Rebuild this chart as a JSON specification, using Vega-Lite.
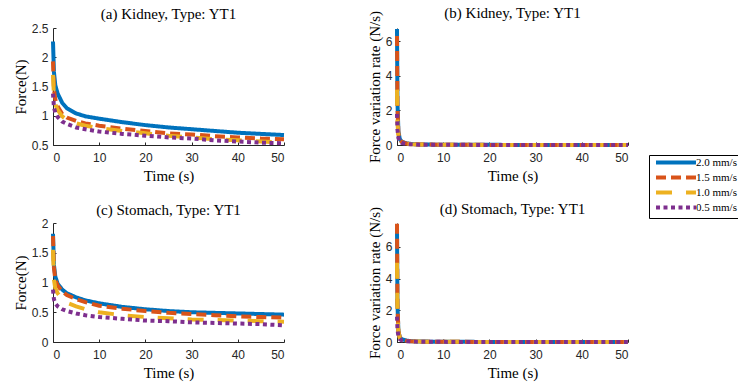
{
  "$schema": "https://vega.github.io/schema/vega-lite/v6.json",
  "background": "white",
  "padding": {"left": 13, "top": 6, "right": 1, "bottom": 2},
  "datasets": {
    "force": [
      {"t":0,"speed":"2.0 mm/s","kidney":2.27,"stomach":1.82},{"t":0.2,"speed":"2.0 mm/s","kidney":1.75,"stomach":1.30},{"t":0.5,"speed":"2.0 mm/s","kidney":1.52,"stomach":1.10},{"t":1,"speed":"2.0 mm/s","kidney":1.38,"stomach":0.98},{"t":2,"speed":"2.0 mm/s","kidney":1.22,"stomach":0.88},{"t":3,"speed":"2.0 mm/s","kidney":1.13,"stomach":0.82},{"t":5,"speed":"2.0 mm/s","kidney":1.04,"stomach":0.75},{"t":7,"speed":"2.0 mm/s","kidney":0.99,"stomach":0.70},{"t":10,"speed":"2.0 mm/s","kidney":0.95,"stomach":0.65},{"t":15,"speed":"2.0 mm/s","kidney":0.89,"stomach":0.59},{"t":20,"speed":"2.0 mm/s","kidney":0.84,"stomach":0.55},{"t":25,"speed":"2.0 mm/s","kidney":0.80,"stomach":0.52},{"t":30,"speed":"2.0 mm/s","kidney":0.77,"stomach":0.50},{"t":35,"speed":"2.0 mm/s","kidney":0.74,"stomach":0.49},{"t":40,"speed":"2.0 mm/s","kidney":0.71,"stomach":0.48},{"t":45,"speed":"2.0 mm/s","kidney":0.69,"stomach":0.47},{"t":50,"speed":"2.0 mm/s","kidney":0.67,"stomach":0.46},
      {"t":0,"speed":"1.5 mm/s","kidney":1.93,"stomach":1.78},{"t":0.2,"speed":"1.5 mm/s","kidney":1.45,"stomach":1.25},{"t":0.5,"speed":"1.5 mm/s","kidney":1.28,"stomach":1.05},{"t":1,"speed":"1.5 mm/s","kidney":1.16,"stomach":0.95},{"t":2,"speed":"1.5 mm/s","kidney":1.03,"stomach":0.85},{"t":3,"speed":"1.5 mm/s","kidney":0.97,"stomach":0.79},{"t":5,"speed":"1.5 mm/s","kidney":0.91,"stomach":0.72},{"t":7,"speed":"1.5 mm/s","kidney":0.87,"stomach":0.67},{"t":10,"speed":"1.5 mm/s","kidney":0.83,"stomach":0.61},{"t":15,"speed":"1.5 mm/s","kidney":0.78,"stomach":0.56},{"t":20,"speed":"1.5 mm/s","kidney":0.74,"stomach":0.52},{"t":25,"speed":"1.5 mm/s","kidney":0.70,"stomach":0.49},{"t":30,"speed":"1.5 mm/s","kidney":0.68,"stomach":0.47},{"t":35,"speed":"1.5 mm/s","kidney":0.65,"stomach":0.45},{"t":40,"speed":"1.5 mm/s","kidney":0.63,"stomach":0.43},{"t":45,"speed":"1.5 mm/s","kidney":0.61,"stomach":0.42},{"t":50,"speed":"1.5 mm/s","kidney":0.60,"stomach":0.41},
      {"t":0,"speed":"1.0 mm/s","kidney":1.70,"stomach":1.55},{"t":0.2,"speed":"1.0 mm/s","kidney":1.35,"stomach":1.05},{"t":0.5,"speed":"1.0 mm/s","kidney":1.20,"stomach":0.90},{"t":1,"speed":"1.0 mm/s","kidney":1.10,"stomach":0.82},{"t":2,"speed":"1.0 mm/s","kidney":0.99,"stomach":0.72},{"t":3,"speed":"1.0 mm/s","kidney":0.93,"stomach":0.66},{"t":5,"speed":"1.0 mm/s","kidney":0.87,"stomach":0.60},{"t":7,"speed":"1.0 mm/s","kidney":0.83,"stomach":0.55},{"t":10,"speed":"1.0 mm/s","kidney":0.79,"stomach":0.50},{"t":15,"speed":"1.0 mm/s","kidney":0.74,"stomach":0.45},{"t":20,"speed":"1.0 mm/s","kidney":0.70,"stomach":0.42},{"t":25,"speed":"1.0 mm/s","kidney":0.66,"stomach":0.40},{"t":30,"speed":"1.0 mm/s","kidney":0.63,"stomach":0.38},{"t":35,"speed":"1.0 mm/s","kidney":0.60,"stomach":0.37},{"t":40,"speed":"1.0 mm/s","kidney":0.58,"stomach":0.36},{"t":45,"speed":"1.0 mm/s","kidney":0.56,"stomach":0.35},{"t":50,"speed":"1.0 mm/s","kidney":0.54,"stomach":0.34},
      {"t":0,"speed":"0.5 mm/s","kidney":1.38,"stomach":0.88},{"t":0.2,"speed":"0.5 mm/s","kidney":1.15,"stomach":0.72},{"t":0.5,"speed":"0.5 mm/s","kidney":1.05,"stomach":0.65},{"t":1,"speed":"0.5 mm/s","kidney":0.98,"stomach":0.60},{"t":2,"speed":"0.5 mm/s","kidney":0.90,"stomach":0.55},{"t":3,"speed":"0.5 mm/s","kidney":0.86,"stomach":0.52},{"t":5,"speed":"0.5 mm/s","kidney":0.80,"stomach":0.48},{"t":7,"speed":"0.5 mm/s","kidney":0.77,"stomach":0.45},{"t":10,"speed":"0.5 mm/s","kidney":0.73,"stomach":0.42},{"t":15,"speed":"0.5 mm/s","kidney":0.69,"stomach":0.39},{"t":20,"speed":"0.5 mm/s","kidney":0.66,"stomach":0.36},{"t":25,"speed":"0.5 mm/s","kidney":0.63,"stomach":0.35},{"t":30,"speed":"0.5 mm/s","kidney":0.61,"stomach":0.33},{"t":35,"speed":"0.5 mm/s","kidney":0.58,"stomach":0.32},{"t":40,"speed":"0.5 mm/s","kidney":0.56,"stomach":0.31},{"t":45,"speed":"0.5 mm/s","kidney":0.54,"stomach":0.30},{"t":50,"speed":"0.5 mm/s","kidney":0.53,"stomach":0.28}
    ],
    "rate": [
      {"t":0,"speed":"2.0 mm/s","kidney":6.7,"stomach":7.2},{"t":0.1,"speed":"2.0 mm/s","kidney":2.5,"stomach":2.4},{"t":0.3,"speed":"2.0 mm/s","kidney":0.8,"stomach":0.7},{"t":0.6,"speed":"2.0 mm/s","kidney":0.35,"stomach":0.3},{"t":1,"speed":"2.0 mm/s","kidney":0.2,"stomach":0.18},{"t":2,"speed":"2.0 mm/s","kidney":0.1,"stomach":0.09},{"t":3,"speed":"2.0 mm/s","kidney":0.06,"stomach":0.05},{"t":5,"speed":"2.0 mm/s","kidney":0.03,"stomach":0.03},{"t":10,"speed":"2.0 mm/s","kidney":0.015,"stomach":0.012},{"t":20,"speed":"2.0 mm/s","kidney":0.008,"stomach":0.006},{"t":30,"speed":"2.0 mm/s","kidney":0.005,"stomach":0.004},{"t":40,"speed":"2.0 mm/s","kidney":0.004,"stomach":0.003},{"t":50,"speed":"2.0 mm/s","kidney":0.003,"stomach":0.002},
      {"t":0,"speed":"1.5 mm/s","kidney":6.3,"stomach":7.45},{"t":0.1,"speed":"1.5 mm/s","kidney":2.2,"stomach":2.4},{"t":0.3,"speed":"1.5 mm/s","kidney":0.7,"stomach":0.7},{"t":0.6,"speed":"1.5 mm/s","kidney":0.32,"stomach":0.3},{"t":1,"speed":"1.5 mm/s","kidney":0.18,"stomach":0.17},{"t":2,"speed":"1.5 mm/s","kidney":0.09,"stomach":0.085},{"t":3,"speed":"1.5 mm/s","kidney":0.05,"stomach":0.05},{"t":5,"speed":"1.5 mm/s","kidney":0.03,"stomach":0.025},{"t":10,"speed":"1.5 mm/s","kidney":0.013,"stomach":0.012},{"t":20,"speed":"1.5 mm/s","kidney":0.007,"stomach":0.006},{"t":30,"speed":"1.5 mm/s","kidney":0.005,"stomach":0.004},{"t":40,"speed":"1.5 mm/s","kidney":0.004,"stomach":0.003},{"t":50,"speed":"1.5 mm/s","kidney":0.003,"stomach":0.002},
      {"t":0,"speed":"1.0 mm/s","kidney":3.2,"stomach":5.0},{"t":0.1,"speed":"1.0 mm/s","kidney":1.3,"stomach":1.8},{"t":0.3,"speed":"1.0 mm/s","kidney":0.5,"stomach":0.6},{"t":0.6,"speed":"1.0 mm/s","kidney":0.25,"stomach":0.27},{"t":1,"speed":"1.0 mm/s","kidney":0.15,"stomach":0.15},{"t":2,"speed":"1.0 mm/s","kidney":0.08,"stomach":0.08},{"t":3,"speed":"1.0 mm/s","kidney":0.05,"stomach":0.05},{"t":5,"speed":"1.0 mm/s","kidney":0.025,"stomach":0.025},{"t":10,"speed":"1.0 mm/s","kidney":0.012,"stomach":0.011},{"t":20,"speed":"1.0 mm/s","kidney":0.006,"stomach":0.005},{"t":30,"speed":"1.0 mm/s","kidney":0.004,"stomach":0.004},{"t":40,"speed":"1.0 mm/s","kidney":0.003,"stomach":0.003},{"t":50,"speed":"1.0 mm/s","kidney":0.002,"stomach":0.002},
      {"t":0,"speed":"0.5 mm/s","kidney":1.8,"stomach":1.6},{"t":0.1,"speed":"0.5 mm/s","kidney":0.9,"stomach":0.8},{"t":0.3,"speed":"0.5 mm/s","kidney":0.4,"stomach":0.35},{"t":0.6,"speed":"0.5 mm/s","kidney":0.2,"stomach":0.18},{"t":1,"speed":"0.5 mm/s","kidney":0.12,"stomach":0.1},{"t":2,"speed":"0.5 mm/s","kidney":0.06,"stomach":0.05},{"t":3,"speed":"0.5 mm/s","kidney":0.04,"stomach":0.035},{"t":5,"speed":"0.5 mm/s","kidney":0.02,"stomach":0.018},{"t":10,"speed":"0.5 mm/s","kidney":0.01,"stomach":0.008},{"t":20,"speed":"0.5 mm/s","kidney":0.005,"stomach":0.004},{"t":30,"speed":"0.5 mm/s","kidney":0.003,"stomach":0.003},{"t":40,"speed":"0.5 mm/s","kidney":0.002,"stomach":0.002},{"t":50,"speed":"0.5 mm/s","kidney":0.002,"stomach":0.002}
    ]
  },
  "config": {
    "view": {"stroke": null},
    "axis": {"grid": false, "domainColor": "#262626", "tickColor": "#262626", "tickSize": -3, "labelFont": "Liberation Sans", "labelFontSize": 12, "labelColor": "#262626", "titleFont": "Liberation Serif", "titleFontSize": 15, "titleFontWeight": "normal", "titleColor": "#000000"},
    "axisX": {"labelPadding": 10, "titlePadding": 5},
    "axisY": {"labelPadding": 8, "titlePadding": 3},
    "title": {"font": "Liberation Serif", "fontSize": 15, "fontWeight": "normal", "color": "#000000"},
    "legend": {"orient": "none", "legendX": 596, "legendY": 127, "symbolType": "M-0.2,0H15.8", "symbolSize": 25, "symbolStrokeWidth": 4, "labelFont": "Liberation Serif", "labelFontSize": 11, "labelColor": "#000000", "strokeColor": "#000000", "fillColor": "#ffffff", "padding": 2, "rowPadding": -2, "labelOffset": 34}
  },
  "columns": 2,
  "spacing": {"row": 78, "column": 113},
  "bounds": "flush",
  "concat": [
    {
      "width": 231, "height": 117,
      "data": {"name": "force"},
      "title": {"text": "(a) Kidney, Type: YT1", "offset": 0},
      "mark": {"type": "line", "strokeWidth": 4, "strokeCap": "butt"},
      "encoding": {
        "x": {"field": "t", "type": "quantitative", "scale": {"domain": [0, 50], "nice": false}, "axis": {"values": [0, 10, 20, 30, 40, 50], "title": "Time (s)", "titleFontWeight": "normal"}},
        "y": {"field": "kidney", "type": "quantitative", "scale": {"domain": [0.5, 2.5], "nice": false}, "axis": {"values": [0.5, 1, 1.5, 2, 2.5], "format": "~g", "title": "Force(N)", "titleFontWeight": "normal"}},
        "color": {"field": "speed", "type": "nominal", "title": null, "sort": null, "scale": {"domain": ["2.0 mm/s", "1.5 mm/s", "1.0 mm/s", "0.5 mm/s"], "range": ["#0072BD", "#D95319", "#EDB120", "#7E2F8E"]}},
        "strokeDash": {"field": "speed", "type": "nominal", "title": null, "sort": null, "scale": {"domain": ["2.0 mm/s", "1.5 mm/s", "1.0 mm/s", "0.5 mm/s"], "range": [[1, 0], [10, 5], [16, 14], [4, 3.5]]}}
      }
    },
    {
      "width": 231, "height": 117,
      "data": {"name": "rate"},
      "title": {"text": "(b) Kidney, Type: YT1", "offset": -11},
      "mark": {"type": "line", "strokeWidth": 4, "strokeCap": "butt"},
      "encoding": {
        "x": {"field": "t", "type": "quantitative", "scale": {"domain": [0, 50], "nice": false}, "axis": {"values": [0, 10, 20, 30, 40, 50], "title": "Time (s)", "titleFontWeight": "normal"}},
        "y": {"field": "kidney", "type": "quantitative", "scale": {"domain": [0, 6.76], "nice": false}, "axis": {"values": [0, 2, 4, 6], "title": "Force variation rate (N/s)", "titleFontWeight": "normal"}},
        "color": {"field": "speed", "type": "nominal", "title": null, "sort": null, "scale": {"domain": ["2.0 mm/s", "1.5 mm/s", "1.0 mm/s", "0.5 mm/s"], "range": ["#0072BD", "#D95319", "#EDB120", "#7E2F8E"]}},
        "strokeDash": {"field": "speed", "type": "nominal", "title": null, "sort": null, "scale": {"domain": ["2.0 mm/s", "1.5 mm/s", "1.0 mm/s", "0.5 mm/s"], "range": [[1, 0], [10, 5], [16, 14], [4, 3.5]]}}
      }
    },
    {
      "width": 231, "height": 119,
      "data": {"name": "force"},
      "title": {"text": "(c) Stomach, Type: YT1", "offset": -1},
      "mark": {"type": "line", "strokeWidth": 4, "strokeCap": "butt"},
      "encoding": {
        "x": {"field": "t", "type": "quantitative", "scale": {"domain": [0, 50], "nice": false}, "axis": {"values": [0, 10, 20, 30, 40, 50], "title": "Time (s)", "titleFontWeight": "normal"}},
        "y": {"field": "stomach", "type": "quantitative", "scale": {"domain": [0, 2], "nice": false}, "axis": {"values": [0, 0.5, 1, 1.5, 2], "format": "~g", "title": "Force(N)", "titleFontWeight": "normal"}},
        "color": {"field": "speed", "type": "nominal", "title": null, "sort": null, "scale": {"domain": ["2.0 mm/s", "1.5 mm/s", "1.0 mm/s", "0.5 mm/s"], "range": ["#0072BD", "#D95319", "#EDB120", "#7E2F8E"]}},
        "strokeDash": {"field": "speed", "type": "nominal", "title": null, "sort": null, "scale": {"domain": ["2.0 mm/s", "1.5 mm/s", "1.0 mm/s", "0.5 mm/s"], "range": [[1, 0], [10, 5], [16, 14], [4, 3.5]]}}
      }
    },
    {
      "width": 231, "height": 119,
      "data": {"name": "rate"},
      "title": {"text": "(d) Stomach, Type: YT1", "offset": -11},
      "mark": {"type": "line", "strokeWidth": 4, "strokeCap": "butt"},
      "encoding": {
        "x": {"field": "t", "type": "quantitative", "scale": {"domain": [0, 50], "nice": false}, "axis": {"values": [0, 10, 20, 30, 40, 50], "title": "Time (s)", "titleFontWeight": "normal"}},
        "y": {"field": "stomach", "type": "quantitative", "scale": {"domain": [0, 7.5], "nice": false}, "axis": {"values": [0, 2, 4, 6], "title": "Force variation rate (N/s)", "titleFontWeight": "normal"}},
        "color": {"field": "speed", "type": "nominal", "title": null, "sort": null, "scale": {"domain": ["2.0 mm/s", "1.5 mm/s", "1.0 mm/s", "0.5 mm/s"], "range": ["#0072BD", "#D95319", "#EDB120", "#7E2F8E"]}},
        "strokeDash": {"field": "speed", "type": "nominal", "title": null, "sort": null, "scale": {"domain": ["2.0 mm/s", "1.5 mm/s", "1.0 mm/s", "0.5 mm/s"], "range": [[1, 0], [10, 5], [16, 14], [4, 3.5]]}}
      }
    }
  ]
}
